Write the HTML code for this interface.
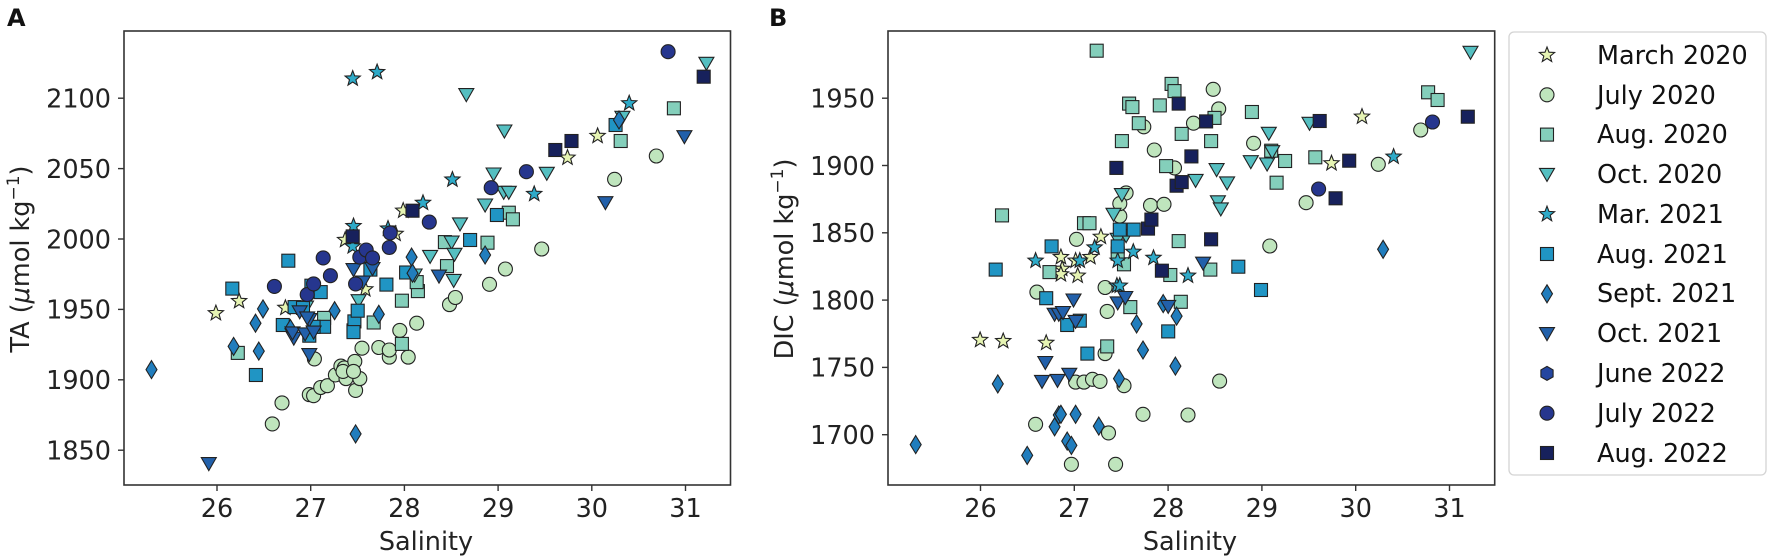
<!DOCTYPE html>
<html><head><meta charset="utf-8"><style>
html,body{margin:0;padding:0;background:#fff;}
svg{display:block;font-family:"DejaVu Sans","Liberation Sans",sans-serif;}
</style></head><body>
<svg id="s" width="1772" height="560" viewBox="0 0 1772 560" xmlns="http://www.w3.org/2000/svg">
<rect width="1772" height="560" fill="#fff"/>
<g id="pts"></g>
<!-- axes A -->
<rect x="124" y="31" width="606.5" height="454" fill="none" stroke="#333" stroke-width="1.6"/>
<rect x="888" y="31" width="606.7" height="454" fill="none" stroke="#333" stroke-width="1.6"/>
<g stroke="#333" stroke-width="1.4">
<line x1="217" y1="485" x2="217" y2="491"/><line x1="310.7" y1="485" x2="310.7" y2="491"/><line x1="404.4" y1="485" x2="404.4" y2="491"/><line x1="498.1" y1="485" x2="498.1" y2="491"/><line x1="591.8" y1="485" x2="591.8" y2="491"/><line x1="685.5" y1="485" x2="685.5" y2="491"/>
<line x1="118" y1="98.2" x2="124" y2="98.2"/><line x1="118" y1="168.6" x2="124" y2="168.6"/><line x1="118" y1="239" x2="124" y2="239"/><line x1="118" y1="309.4" x2="124" y2="309.4"/><line x1="118" y1="379.8" x2="124" y2="379.8"/><line x1="118" y1="450.2" x2="124" y2="450.2"/>
<line x1="980.5" y1="485" x2="980.5" y2="491"/><line x1="1074.3" y1="485" x2="1074.3" y2="491"/><line x1="1168.1" y1="485" x2="1168.1" y2="491"/><line x1="1261.9" y1="485" x2="1261.9" y2="491"/><line x1="1355.7" y1="485" x2="1355.7" y2="491"/><line x1="1449.5" y1="485" x2="1449.5" y2="491"/>
<line x1="882" y1="98.2" x2="888" y2="98.2"/><line x1="882" y1="165.5" x2="888" y2="165.5"/><line x1="882" y1="232.8" x2="888" y2="232.8"/><line x1="882" y1="300.1" x2="888" y2="300.1"/><line x1="882" y1="367.4" x2="888" y2="367.4"/><line x1="882" y1="434.7" x2="888" y2="434.7"/>
</g>
<g font-size="25.5" fill="#222" text-anchor="middle">
<text x="217" y="517">26</text><text x="310.7" y="517">27</text><text x="404.4" y="517">28</text><text x="498.1" y="517">29</text><text x="591.8" y="517">30</text><text x="685.5" y="517">31</text>
<text x="980.5" y="517">26</text><text x="1074.3" y="517">27</text><text x="1168.1" y="517">28</text><text x="1261.9" y="517">29</text><text x="1355.7" y="517">30</text><text x="1449.5" y="517">31</text>
<text x="426" y="550">Salinity</text><text x="1190" y="550">Salinity</text>
</g>
<g font-size="25.5" fill="#222" text-anchor="end">
<text x="111" y="107.5">2100</text><text x="111" y="177.9">2050</text><text x="111" y="248.3">2000</text><text x="111" y="318.7">1950</text><text x="111" y="389.1">1900</text><text x="111" y="459.5">1850</text>
<text x="875" y="107.5">1950</text><text x="875" y="174.8">1900</text><text x="875" y="242.1">1850</text><text x="875" y="309.4">1800</text><text x="875" y="376.7">1750</text><text x="875" y="444">1700</text>
</g>
<g font-size="25.5" fill="#222" text-anchor="middle">
<text transform="translate(29,259) rotate(-90)">TA (<tspan font-style="italic">μ</tspan>mol kg<tspan font-size="17" dy="-10">−1</tspan><tspan dy="10">)</tspan></text>
<text transform="translate(793,259) rotate(-90)">DIC (<tspan font-style="italic">μ</tspan>mol kg<tspan font-size="17" dy="-10">−1</tspan><tspan dy="10">)</tspan></text>
</g>
<text x="7" y="26" font-size="24" font-weight="bold" fill="#111">A</text>
<text x="769" y="26" font-size="24" font-weight="bold" fill="#111">B</text>
<!-- legend -->
<rect x="1509" y="32" width="257" height="443" rx="5" fill="#fff" stroke="#d4d4d4" stroke-width="1.3"/>
<g id="leg"></g>
<g font-size="25.5" fill="#111">
<text x="1597" y="64">March 2020</text>
<text x="1597" y="104">July 2020</text>
<text x="1597" y="143">Aug. 2020</text>
<text x="1597" y="183">Oct. 2020</text>
<text x="1597" y="223">Mar. 2021</text>
<text x="1597" y="263">Aug. 2021</text>
<text x="1597" y="302">Sept. 2021</text>
<text x="1597" y="342">Oct. 2021</text>
<text x="1597" y="382">June 2022</text>
<text x="1597" y="422">July 2022</text>
<text x="1597" y="462">Aug. 2022</text>
</g>
</svg>
<script>
var C={s1:'#e6f4b3',c1:'#bfe5bd',q1:'#84cfbb',t1:'#55bfc1',s2:'#2eaac8',q2:'#2095c4',d1:'#217dbd',t2:'#2260aa',h:'#2446a0',c2:'#26368e',q3:'#17215c'};
function mk(t,x,y){
 var f=C[t],st='stroke="#222" stroke-width="1.1" fill="'+f+'"';
 if(t=='c1'||t=='c2')return '<circle cx="'+x+'" cy="'+y+'" r="7" '+st+'/>';
 if(t[0]=='q')return '<rect x="'+(x-6.5)+'" y="'+(y-6.5)+'" width="13" height="13" '+st+'/>';
 if(t[0]=='t')return '<polygon points="'+(x-7.5)+','+(y-6)+' '+(x+7.5)+','+(y-6)+' '+x+','+(y+7)+'" '+st+'/>';
 if(t=='d1')return '<polygon points="'+x+','+(y-9)+' '+(x+5.5)+','+y+' '+x+','+(y+9)+' '+(x-5.5)+','+y+'" '+st+'/>';
 if(t=='h'){var p=[];for(var i=0;i<6;i++){var a=Math.PI/6+i*Math.PI/3;p.push((x+7*Math.cos(a)).toFixed(1)+','+(y+7*Math.sin(a)).toFixed(1));}return '<polygon points="'+p.join(' ')+'" '+st+'/>';}
 var p=[];for(var i=0;i<10;i++){var r=i%2?3.4:8,a=-Math.PI/2+i*Math.PI/5;p.push((x+r*Math.cos(a)).toFixed(1)+','+(y+r*Math.sin(a)).toFixed(1));}
 return '<polygon points="'+p.join(' ')+'" '+st+'/>';
}
var Z1={s1:[[513,877],[568,843],[678,862],[868,810],[940,655],[820,672],[958,590]],
s2:[[838,220],[896,202],[840,633],[1005,568],[1075,503],[838,690],[922,640]],
c1:[[647,1187],[670,1128],[735,1105],[745,1108],[762,1085],[778,1080],[797,1050],[810,1025],[818,1030],[822,1060],[843,1012],[845,1093],[855,1060],[860,975],[900,973],[925,1000],[925,980],[950,925],[970,1000],[990,905],[1068,853],[1082,833],[747,1005],[815,1040],[840,1040]],
q1:[[565,988],[955,963],[955,842],[993,815],[1062,745],[1057,678],[888,903],[770,890],[840,925],[990,790]],
t1:[[1108,265],[1093,627],[1073,678],[1080,712],[1078,785],[1022,718],[852,842],[985,770],[727,860]],
q2:[[685,730],[552,808],[608,1050],[672,910],[700,860],[720,862],[740,800],[762,818],[770,915],[745,915],[842,900],[850,870],[840,930],[918,797],[965,763],[1117,672],[880,755],[735,940]],
d1:[[360,1035],[555,970],[607,905],[615,983],[625,865],[690,920],[795,870],[845,1215],[900,880],[978,720],[980,765]],
t2:[[496,1298],[735,993],[698,947],[695,932],[712,873],[725,935],[735,895],[840,755],[862,790],[1043,773],[730,890],[745,930],[885,752]],
c2:[[652,802],[730,825],[745,795],[768,722],[785,772],[845,795],[855,720],[870,700],[885,722],[925,693],[927,652],[1020,622]],
q3:[[838,662],[980,590]]};
var Z5={s1:[[258,413],[347,348]],s2:[[440,250],[160,522]],c1:[[28,793],[75,747],[182,687],[397,478],[520,408]],
q1:[[22,668],[85,578],[97,598],[415,363],[572,265]],t1:[[72,333],[40,462],[70,517],[85,517],[15,555],[197,460],[668,130],[420,292]],
q2:[[50,585],[400,315]],d1:[[15,705],[410,300]],t2:[[370,548],[603,350]],c2:[[555,95],[137,455],[33,503]],q3:[[222,390],[270,363],[660,170]]};
var Z2={s1:[[713,952],[768,955],[870,960],[905,720],[908,753],[945,772],[975,720],[1000,663],[940,730],[905,768]],
s2:[[845,730],[950,730],[985,693],[1040,730],[1038,800],[1077,705],[1125,722],[1207,772],[1045,800]],
c1:[[848,818],[845,1188],[930,1300],[940,1070],[942,670],[960,1070],[980,1062],[998,1068],[1010,805],[1010,990],[1018,1212],[1015,872],[1035,1300],[1045,605],[1055,1080],[1060,540],[1100,1160],[1118,575],[1127,420],[1150,572],[1175,470],[1207,1162],[1220,345],[1267,250],[1282,1067],[1280,305],[1102,355],[1045,570]],
q1:[[765,603],[960,625],[973,625],[878,762],[1050,395],[1067,290],[1075,300],[1090,345],[1140,295],[1168,235],[1175,255],[1155,465],[1192,375],[1185,675],[1165,770],[1190,845],[1262,395],[1270,330],[1260,755],[990,142],[1015,970],[1055,740],[1070,860],[1040,710]],
t1:[[1030,600],[1050,545],[1225,505],[1275,475],[1278,565],[1285,585],[1300,512],[1040,670],[1060,660]],
q2:[[750,755],[883,690],[870,835],[920,910],[950,898],[968,990],[1045,643],[1078,643],[1040,690],[1160,928]],
d1:[[560,1245],[755,1075],[825,1275],[890,1195],[900,1162],[905,1160],[920,1235],[930,1247],[940,1160],[995,1193],[1043,1060],[1085,907],[1100,980],[1148,850],[1177,1025],[1180,885]],
t2:[[868,1015],[860,1068],[897,1065],[925,1048],[890,880],[900,880],[935,840],[940,900],[1040,848],[1058,833],[1160,858],[1243,737],[910,875]],
q3:[[1037,470],[1112,640],[1120,615],[1145,758],[1180,520],[1192,510],[1215,438],[1250,340],[1262,670],[1185,290]]};
var Z6={s1:[[270,430],[360,290]],s2:[[453,410]],c1:[[40,370],[88,678],[195,548],[408,433],[533,330]],
q1:[[35,276],[92,392],[133,423],[108,488],[222,412],[555,217],[583,240]],t1:[[85,340],[32,425],[80,432],[95,395],[205,310],[680,97]],
q2:[[62,810],[-5,740]],d1:[[422,688]],c2:[[232,507],[568,306]],q3:[[235,303],[322,422],[282,535],[672,290]]};
var order=['s1','c1','q1','t1','s2','q2','d1','t2','h','c2','q3'],out='';
function add(Z,fx,fy){order.forEach(function(t){(Z[t]||[]).forEach(function(p){out+=mk(t,fx(p[0]).toFixed(1),fy(p[1]).toFixed(1)).replace(/"(-?\d+\.?\d*)"/g,'"$1"');});});}
function addAll(){
 order.forEach(function(t){
  [[Z1,function(x){return x/2.376},function(y){return y/2.8}],[Z5,function(x){return 480+x/2.95},function(y){return 20+y/3}],
   [Z2,function(x){return 680+x/2.376},function(y){return y/2.8}],[Z6,function(x){return 1240+x/2.95},function(y){return 20+y/3}]].forEach(function(f){
    (f[0][t]||[]).forEach(function(p){out+=mk(t,+f[1](p[0]).toFixed(1),+f[2](p[1]).toFixed(1));});
  });
 });
}
addAll();
document.getElementById('pts').innerHTML=out;
var lg='';order.forEach(function(t,i){var y=55+39.8*i;lg+=mk(t,1547,y);});
document.getElementById('leg').innerHTML=lg;
</script>
</body></html>
